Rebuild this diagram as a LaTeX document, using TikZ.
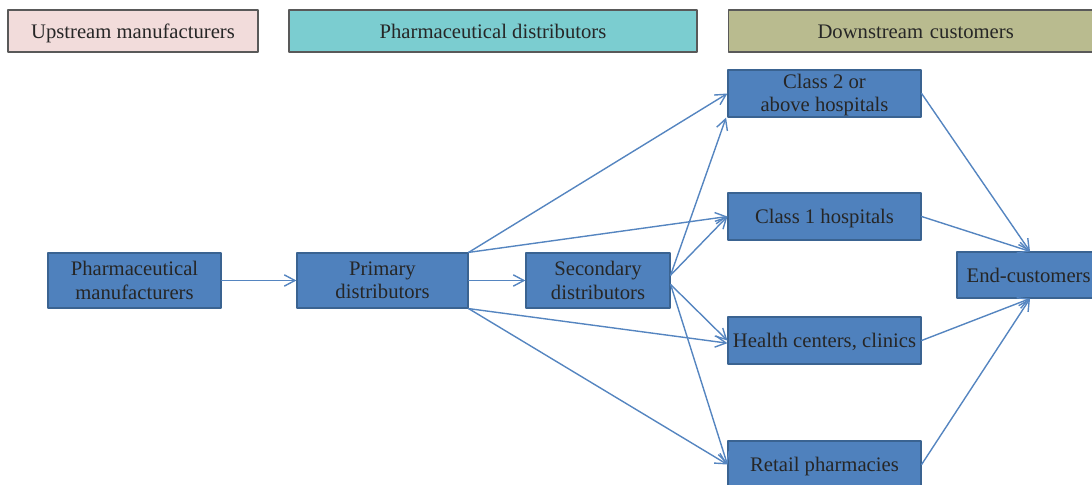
\documentclass[tikz,border=0pt]{standalone}
\usepackage{fontspec}
\setmainfont{Liberation Serif}
\usetikzlibrary{arrows.meta}

\definecolor{hdrpink}{HTML}{F2DCDB}
\definecolor{hdrteal}{HTML}{7BCDD0}
\definecolor{hdrolive}{HTML}{B9BB8F}
\definecolor{boxblue}{HTML}{4F81BD}
\definecolor{boxedge}{HTML}{3A6391}
\definecolor{flowblue}{HTML}{5585C0}

\tikzset{
  hdr/.style={draw=black!65, line width=0.9pt, inner sep=0pt, text=black!85,
    text height=14.5pt, text depth=3.5pt,
    font=\fontsize{15.5}{17.5}\selectfont},
  flowbox/.style={draw=boxedge, line width=0.9pt, fill=boxblue, inner sep=0pt,
    align=center, text=black!85, font=\fontsize{15.5}{17.5}\selectfont},
  oneline/.style={text height=14pt, text depth=3.5pt},
  flow/.style={draw=flowblue, line width=1.05pt,
    -{Straight Barb[length=8pt,width=8.5pt]}}
}

\begin{document}
\begin{tikzpicture}[x=0.75pt, y=-0.75pt, line cap=round, line join=round]

\useasboundingbox (0,0) rectangle (1092,485);

% --- Headers ---
\node[hdr, fill=hdrpink, minimum width=187.5pt, minimum height=31.5pt] (up) at (133,31) {Upstream manufacturers};
\node[hdr, fill=hdrteal, minimum width=306pt, minimum height=31.5pt] (dist) at (493,31) {Pharmaceutical distributors};
\node[hdr, fill=hdrolive, minimum width=275pt, minimum height=31.5pt, text width=273pt, align=left] (down) at (911.5,31) {\hspace*{66pt}Downstream customers};

% --- Boxes ---
\node[flowbox, minimum width=129.75pt, minimum height=41.25pt] (manu) at (134.5,280.5) {Pharmaceutical\\manufacturers};
\node[flowbox, minimum width=128.25pt, minimum height=41.25pt] (prim) at (382.5,280.5) {Primary\\distributors};
\node[flowbox, minimum width=108pt, minimum height=41.25pt] (sec) at (598,280.5) {Secondary\\distributors};
\node[flowbox, minimum width=144.75pt, minimum height=35.25pt] (hosp2) at (824.5,93.5) {\rule{0pt}{13pt}Class 2 or\\above hospitals};
\node[flowbox, oneline, minimum width=144.75pt, minimum height=35.25pt] (hosp1) at (824.5,216.5) {Class 1 hospitals};
\node[flowbox, oneline, minimum width=144.75pt, minimum height=35.25pt] (clinic) at (824.5,340.5) {Health centers, clinics};
\node[flowbox, oneline, minimum width=144.75pt, minimum height=35.25pt] (retail) at (824.5,464.5) {Retail pharmacies};
\node[flowbox, oneline, minimum width=103.5pt, minimum height=34.5pt, text width=101pt, align=left] (endc) at (1026,275) {\hspace*{6pt}End-customers};

% --- Arrows ---
\draw[flow] (manu) -- (prim);
\draw[flow] (prim) -- (sec);

% primary distributors to hospitals and pharmacies
\draw[flow] (prim.north east) -- (hosp2.west);
\draw[flow] (prim.north east) -- (hosp1.west);
\draw[flow] (prim.south east) -- ([yshift=-2pt]clinic.west);
\draw[flow] (prim.south east) -- (retail.west);

% secondary distributors to hospitals and pharmacies
\draw[flow] ([yshift=4pt]sec.east) -- ([xshift=-1pt]hosp2.south west);
\draw[flow] ([yshift=4pt]sec.east) -- (hosp1.west);
\draw[flow] ([yshift=-3pt]sec.east) -- (clinic.west);
\draw[flow] ([yshift=-3pt]sec.east) -- (retail.west);

% to end-customers
\draw[flow] (hosp2.east) -- ([xshift=3pt]endc.north);
\draw[flow] (hosp1.east) -- ([xshift=3pt]endc.north);
\draw[flow] (clinic.east) -- ([xshift=3pt]endc.south);
\draw[flow] (retail.east) -- ([xshift=3pt]endc.south);

\end{tikzpicture}
\end{document}
